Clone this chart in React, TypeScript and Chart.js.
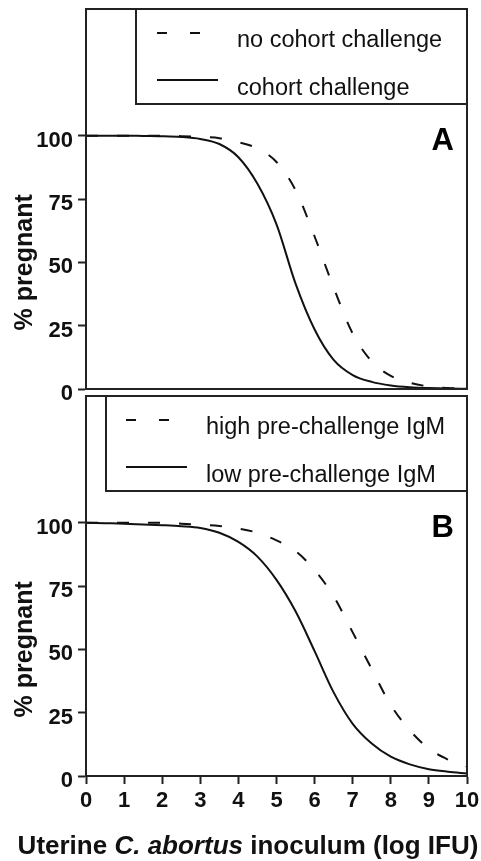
import React, { useEffect, useRef } from 'react';
import { Chart, registerables } from 'chart.js';

Chart.register(...registerables);

// ---- data ----
const xValues = [0, 0.5, 1, 1.5, 2, 2.5, 3, 3.5, 4, 4.5, 5, 5.5, 6, 6.5, 7, 7.5, 8, 8.5, 9, 9.5, 10];

// Panel A
const noCohortChallenge = [100, 100, 100, 100, 100, 99.8, 99.5, 99, 97.4, 95, 89.6, 78.5, 60.2, 40, 21.9, 10.9, 5.2, 2.5, 1.0, 0.4, 0.2];
const cohortChallenge = [100, 100, 100, 99.9, 99.8, 99.5, 98.7, 96.7, 91.5, 81, 65, 41.6, 23.5, 11.5, 5.5, 2.8, 1.4, 0.7, 0.35, 0.15, 0.1];

// Panel B
const highPreChallengeIgM = [100, 100, 100, 100, 99.9, 99.6, 99.2, 98.7, 97.7, 96, 93, 88.8, 81.3, 70.9, 56.7, 42.2, 28, 18, 10.8, 6.5, 3.7];
const lowPreChallengeIgM = [100, 99.8, 99.6, 99.3, 99.0, 98.6, 97.9, 96, 92.4, 86.6, 77.4, 65, 49.3, 33, 20.6, 12.8, 7.6, 4.6, 2.7, 1.7, 1.0];

const yTickValues = [0, 25, 50, 75, 100];
const xTickValues = [0, 1, 2, 3, 4, 5, 6, 7, 8, 9, 10];
const panelALabels = ['no cohort challenge', 'cohort challenge'];
const panelBLabels = ['high pre-challenge IgM', 'low pre-challenge IgM'];
const yTitle = '% pregnant';
const xTitleParts = [
  { text: 'Uterine ', italic: false },
  { text: 'C. abortus', italic: true },
  { text: ' inoculum (log IFU)', italic: false },
];

// ---- styling ----
const FONT = '"Liberation Sans", Arial, Helvetica, sans-serif';
const INK = '#111';
const FRAME = '#222';
const CURVE_DASH = [12, 19];

function toPoints(ys: number[]) {
  return xValues.map((x, i) => ({ x, y: ys[i] }));
}

type PanelCfg = {
  letter: string;
  legendLeft: number;
  sampleStart: number;
  textOffset: number;
  drawXTitle: boolean;
};

function makePlugin(cfg: PanelCfg) {
  return {
    id: 'panelDecor' + cfg.letter,
    afterDraw(chart: any) {
      const { ctx, chartArea: ca } = chart;
      ctx.save();
      // frame
      ctx.strokeStyle = FRAME;
      ctx.lineWidth = 2;
      ctx.setLineDash([]);
      ctx.strokeRect(ca.left, ca.top, ca.right - ca.left, ca.bottom - ca.top);

      // legend box
      const lx = ca.left + cfg.legendLeft;
      const ly = ca.top;
      const lh = 95;
      ctx.strokeRect(lx, ly, ca.right - lx, lh);

      const rowsSample = [24, 71];
      const rowsText = [38, 86];
      chart.data.datasets.forEach((ds: any, i: number) => {
        const sy = ly + rowsSample[i];
        const dashed = ds.borderDash && ds.borderDash.length > 0;
        ctx.beginPath();
        ctx.strokeStyle = INK;
        ctx.lineWidth = 2;
        if (dashed) {
          ctx.setLineDash([10, 23]);
          ctx.moveTo(lx + cfg.sampleStart, sy);
          ctx.lineTo(lx + cfg.sampleStart + 43, sy);
        } else {
          ctx.setLineDash([]);
          ctx.moveTo(lx + cfg.sampleStart, sy);
          ctx.lineTo(lx + cfg.sampleStart + 61, sy);
        }
        ctx.stroke();
        ctx.setLineDash([]);
        ctx.fillStyle = INK;
        ctx.font = `23.5px ${FONT}`;
        ctx.textAlign = 'left';
        ctx.textBaseline = 'alphabetic';
        ctx.fillText(ds.label, lx + cfg.textOffset, ly + rowsText[i]);
      });

      // panel letter
      ctx.font = `bold 31px ${FONT}`;
      ctx.textAlign = 'right';
      ctx.textBaseline = 'alphabetic';
      ctx.fillStyle = '#000';
      ctx.fillText(cfg.letter, ca.right - 13, ca.top + 141);

      // y title, centred on the 0..100 range
      const yScale = chart.scales.y;
      const cy = (yScale.getPixelForValue(0) + yScale.getPixelForValue(100)) / 2;
      ctx.save();
      ctx.translate(25, cy);
      ctx.rotate(-Math.PI / 2);
      ctx.font = `bold 25px ${FONT}`;
      ctx.textAlign = 'center';
      ctx.textBaseline = 'middle';
      ctx.fillStyle = INK;
      ctx.fillText(yTitle, 0, 0);
      ctx.restore();

      // x title (mixed italic)
      if (cfg.drawXTitle) {
        const fonts = xTitleParts.map((p) => (p.italic ? `italic bold 26px ${FONT}` : `bold 26px ${FONT}`));
        let total = 0;
        const widths = xTitleParts.map((p, i) => {
          ctx.font = fonts[i];
          const w = ctx.measureText(p.text).width;
          total += w;
          return w;
        });
        let x = 248 - total / 2;
        const y = chart.height - 7;
        ctx.textAlign = 'left';
        ctx.textBaseline = 'alphabetic';
        ctx.fillStyle = INK;
        xTitleParts.forEach((p, i) => {
          ctx.font = fonts[i];
          ctx.fillText(p.text, x, y);
          x += widths[i];
        });
      }
      ctx.restore();
    },
  };
}

function makeConfig(
  cfg: PanelCfg,
  labels: string[],
  dashed: number[],
  solid: number[],
  padding: { top: number; right: number; bottom: number; left: number },
  showX: boolean
): any {
  const tickFont = { size: 22, weight: 'bold' as const, family: FONT };
  return {
    type: 'line',
    data: {
      datasets: [
        {
          label: labels[0],
          data: toPoints(dashed),
          borderColor: INK,
          borderWidth: 2,
          borderDash: CURVE_DASH,
          pointRadius: 0,
          fill: false,
          cubicInterpolationMode: 'monotone',
        },
        {
          label: labels[1],
          data: toPoints(solid),
          borderColor: INK,
          borderWidth: 2,
          borderDash: [],
          pointRadius: 0,
          fill: false,
          cubicInterpolationMode: 'monotone',
        },
      ],
    },
    options: {
      responsive: false,
      animation: false,
      layout: { padding },
      plugins: {
        legend: { display: false },
        tooltip: { enabled: false },
      },
      scales: {
        x: {
          type: 'linear',
          min: 0,
          max: 10,
          display: showX,
          afterBuildTicks: (axis: any) => {
            axis.ticks = xTickValues.map((v) => ({ value: v }));
          },
          afterFit: (axis: any) => {
            if (!showX) {
              axis.height = 0;
              return;
            }
            axis.height = 85;
            axis.paddingLeft = 0;
            axis.paddingRight = 0;
          },
          grid: { drawOnChartArea: false, drawTicks: true, tickLength: 8, tickWidth: 2, tickColor: FRAME },
          border: { display: true, color: FRAME, width: 2 },
          ticks: { font: tickFont, color: INK, padding: 4, maxRotation: 0, autoSkip: false },
        },
        y: {
          type: 'linear',
          min: 0,
          max: 150,
          afterBuildTicks: (axis: any) => {
            axis.ticks = yTickValues.map((v) => ({ value: v }));
          },
          afterFit: (axis: any) => {
            axis.width = 86;
            axis.paddingTop = 0;
            axis.paddingBottom = 0;
          },
          grid: { drawOnChartArea: false, drawTicks: true, tickLength: 8, tickWidth: 2, tickColor: FRAME },
          border: { display: true, color: FRAME, width: 2 },
          ticks: { font: tickFont, color: INK, padding: 5, labelOffset: 5 },
        },
      },
    },
    plugins: [makePlugin(cfg)],
  };
}

export default function App() {
  const refA = useRef<HTMLCanvasElement>(null);
  const refB = useRef<HTMLCanvasElement>(null);

  useEffect(() => {
    if (!refA.current || !refB.current) return;
    const chartA = new Chart(
      refA.current,
      makeConfig(
        { letter: 'A', legendLeft: 50, sampleStart: 21, textOffset: 101, drawXTitle: false },
        panelALabels,
        noCohortChallenge,
        cohortChallenge,
        { top: 9, right: 14, bottom: 21, left: 0 },
        false
      )
    );
    const chartB = new Chart(
      refB.current,
      makeConfig(
        { letter: 'B', legendLeft: 20, sampleStart: 20, textOffset: 100, drawXTitle: true },
        panelBLabels,
        highPreChallengeIgM,
        lowPreChallengeIgM,
        { top: 6, right: 14, bottom: 0, left: 0 },
        true
      )
    );
    return () => {
      chartA.destroy();
      chartB.destroy();
    };
  }, []);

  return (
    <div style={{ position: 'absolute', left: 0, top: 0, width: 481, height: 861, background: '#fff' }}>
      <canvas ref={refA} width={481} height={410} style={{ position: 'absolute', left: 0, top: 0 }} />
      <canvas ref={refB} width={481} height={471} style={{ position: 'absolute', left: 0, top: 390 }} />
    </div>
  );
}
